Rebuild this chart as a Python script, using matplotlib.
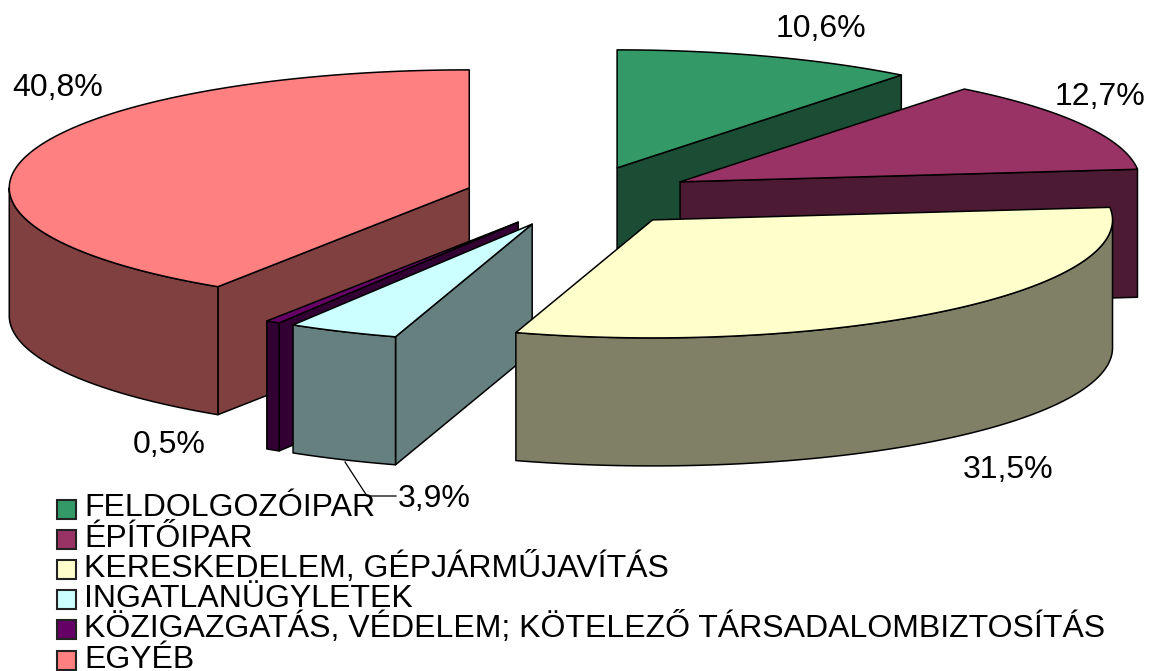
import numpy as np
import matplotlib
matplotlib.use("Agg")
import matplotlib.pyplot as plt
from matplotlib.patches import Polygon, Rectangle

# Adatok
categories = ["FELDOLGOZÓIPAR", "ÉPÍTŐIPAR", "KERESKEDELEM, GÉPJÁRMŰJAVÍTÁS",
              "INGATLANÜGYLETEK", "KÖZIGAZGATÁS, VÉDELEM; KÖTELEZŐ TÁRSADALOMBIZTOSÍTÁS",
              "EGYÉB"]
values = [10.6, 12.7, 31.5, 3.9, 0.5, 40.8]
value_labels = ["10,6%", "12,7%", "31,5%", "3,9%", "0,5%", "40,8%"]
top_colors = ["#339966", "#993366", "#FFFFCC", "#CCFFFF", "#660066", "#FF8080"]
side_colors = ["#1A4D33", "#4D1A33", "#808066", "#668080", "#330033", "#804040"]
label_pos = [(821, 29), (1100, 97), (1008, 470), (434, 499), (169, 445), (58, 88)]

# 3D kor geometria (pixelben)
cx, cy = 579.5, 196.5
a, b = 460, 118
depth = 128
explode_x, explode_y = 115, 30.3

plt.rcParams['font.family'] = ['Liberation Sans', 'DejaVu Sans']
fig = plt.figure(figsize=(11.49, 6.71), dpi=100)
ax = fig.add_axes([0, 0, 1, 1])
ax.set_xlim(0, 1149)
ax.set_ylim(671, 0)
ax.axis("off")


def pt(px, py, ang):
    r = np.radians(ang)
    return px + a * np.sin(r), py - b * np.cos(r)


def arc(px, py, a1, a2):
    t = np.linspace(a1, a2, 120)
    x, y = pt(px, py, t)
    return np.column_stack([x, y])


def draw_slice(i, a1, a2):
    mid = np.radians((a1 + a2) / 2)
    px = cx + explode_x * np.sin(mid)
    py = cy - explode_y * np.cos(mid)
    kw = dict(facecolor=side_colors[i], edgecolor="black", lw=1.1, joinstyle="round")
    # paredes radiales visibles
    if a1 > 180:
        x, y = pt(px, py, a1)
        ax.add_patch(Polygon([(px, py), (x, y), (x, y + depth), (px, py + depth)], **kw))
    if a2 < 180:
        x, y = pt(px, py, a2)
        ax.add_patch(Polygon([(px, py), (x, y), (x, y + depth), (px, py + depth)], **kw))
    # pared curva
    f1, f2 = max(a1, 90), min(a2, 270)
    if f1 < f2:
        up = arc(px, py, f1, f2)
        low = up[::-1] + [0, depth]
        ax.add_patch(Polygon(np.vstack([up, low]), **kw))
    # tapa
    ax.add_patch(Polygon(np.vstack([[(px, py)], arc(px, py, a1, a2)]),
                         facecolor=top_colors[i], edgecolor="black", lw=1.1, joinstyle="round"))


ends = np.cumsum(values) / np.sum(values) * 360
starts = np.concatenate([[0], ends[:-1]])
for i in [0, 1, 5, 4, 3, 2]:
    draw_slice(i, starts[i], ends[i])

# Linea guia de 3,9%
ax.plot([345, 367, 396], [462, 496, 496], color="black", lw=0.9)

for lab, (x, y) in zip(value_labels, label_pos):
    ax.text(x, y, lab, fontsize=23, ha="center", va="center", color="black")

# Leyenda
for i, cat in enumerate(categories):
    ax.add_patch(Rectangle((56.5, 499.5 + i * 30.2), 19, 19, facecolor=top_colors[i],
                           edgecolor="#222222", lw=1.5))
    ax.text(84, 516.5 + i * 30.2, cat, fontsize=23, ha="left", va="baseline", color="black")

fig.savefig("out.png", dpi=100)
